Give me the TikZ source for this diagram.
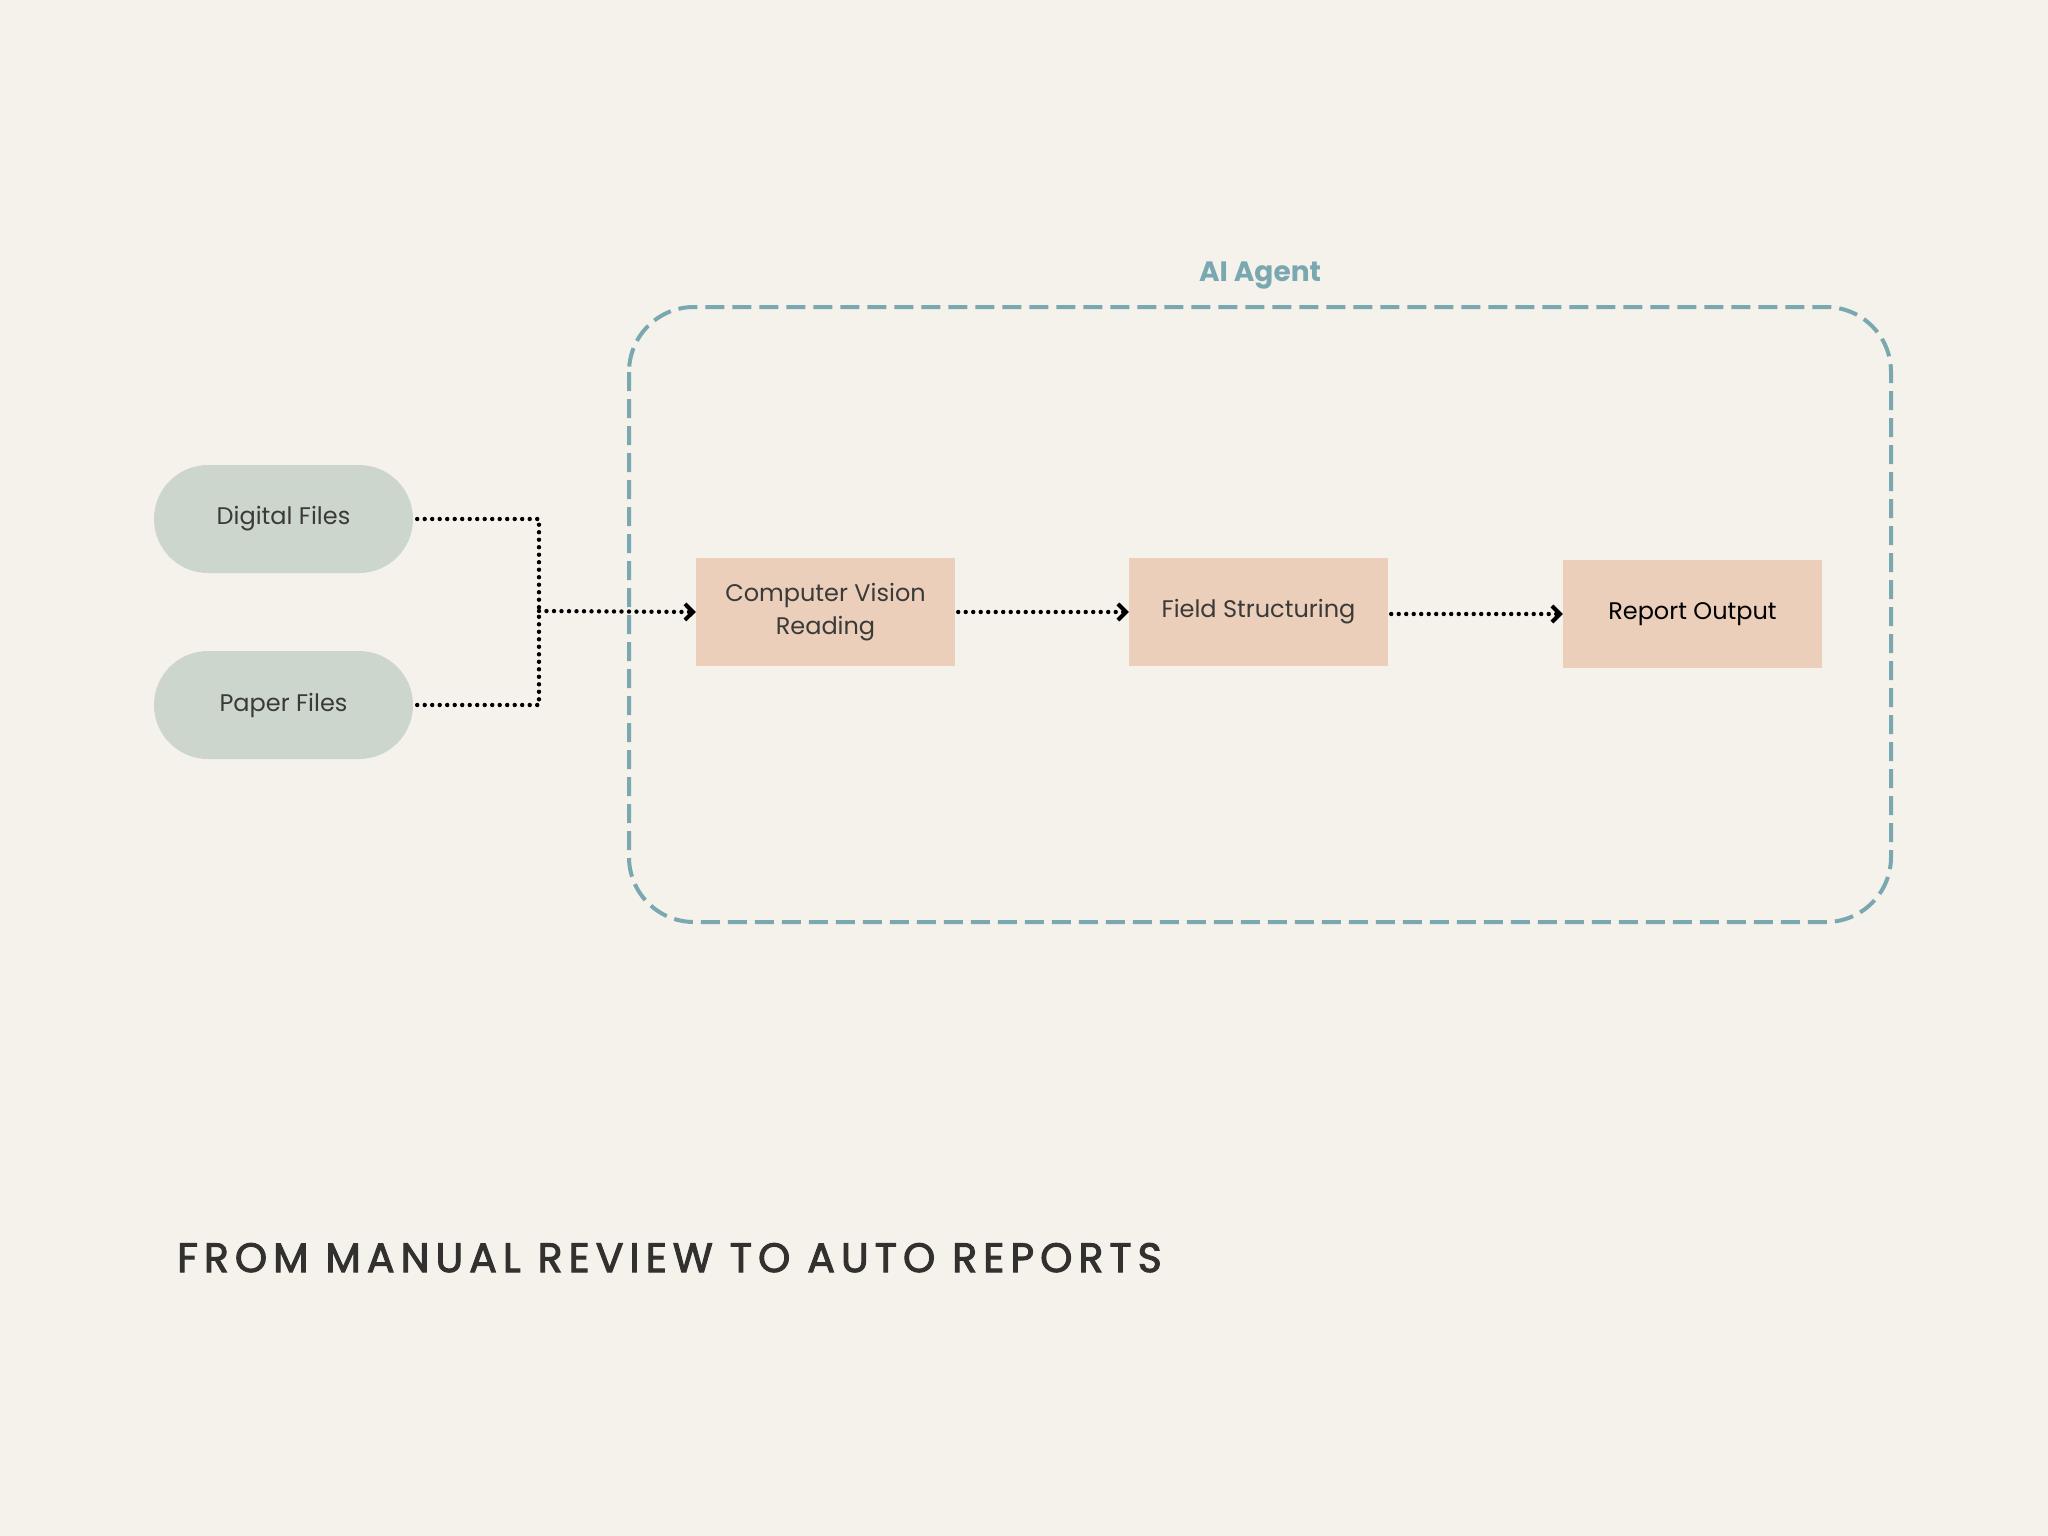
\documentclass[tikz,border=0pt]{standalone}
\usepackage{fontspec}
\setmainfont{Poppins}
\usetikzlibrary{arrows.meta,positioning,shapes.misc}
\definecolor{bg}{HTML}{F5F1EB}
\definecolor{pillc}{HTML}{CDD6CD}
\definecolor{boxc}{HTML}{EBCFBA}
\definecolor{teal}{HTML}{7AA8B1}
\definecolor{txt}{HTML}{3A3A38}
\definecolor{ttl}{HTML}{33312F}
\tikzset{
  pill/.style={rounded rectangle, fill=pillc, minimum width=259pt, minimum height=108pt, inner sep=0pt,
    font=\fontsize{24}{29}\selectfont, text=txt},
  stepbox/.style={rectangle, fill=boxc, minimum width=259pt, minimum height=108pt, inner sep=0pt,
    font=\fontsize{24}{33}\selectfont, text=txt, align=center},
  flow/.style={draw=black, line width=4.4pt, dash pattern=on 0pt off 7.5pt, line cap=round},
  tipped/.style={flow, -{Straight Barb[length=8pt,width=16pt,line width=4pt]}},
  agent/.style={draw=teal, line width=4pt, dash pattern=on 19pt off 8pt, rounded corners=65pt}
}
\begin{document}
\begin{tikzpicture}[x=1pt,y=-1pt]
\fill[bg] (0,0) rectangle (2048,1536);
\useasboundingbox (0,0) rectangle (2048,1536);
\draw[agent] (629,307) rectangle (1891,922);
\node[font=\fontsize{28}{34}\bfseries\selectfont, text=teal] (agentlbl) at (1260,276) {AI Agent};
\node[pill] (dig) at (283.5,519) {Digital Files};
\node[pill] (pap) at (283.5,705) {Paper Files};
\node[stepbox] (cv) at (825.5,612) {Computer Vision\\Reading};
\node[stepbox] (fs) at (1258.5,612) {Field Structuring};
\node[stepbox, text=black] (ro) at (1692.5,614) {Report Output};
\coordinate (j) at (539,611);
\draw[flow, shorten <=4pt] (dig.east) -| (j);
\draw[flow, shorten <=4pt] (pap.east) -| (j);
\draw[tipped] (j) -- (cv.west);
\draw[tipped, shorten <=3pt] (cv.east) -- (fs.west);
\draw[tipped, shorten <=3pt] (fs.east |- ro.west) -- (ro.west);
\node[anchor=base west, font=\fontsize{41}{46}\selectfont\addfontfeatures{LetterSpace=14.8,FakeBold=2.5}, text=ttl, inner sep=0pt] (title) at (177,1272) {FROM MANUAL REVIEW TO AUTO REPORTS};
\end{tikzpicture}
\end{document}
